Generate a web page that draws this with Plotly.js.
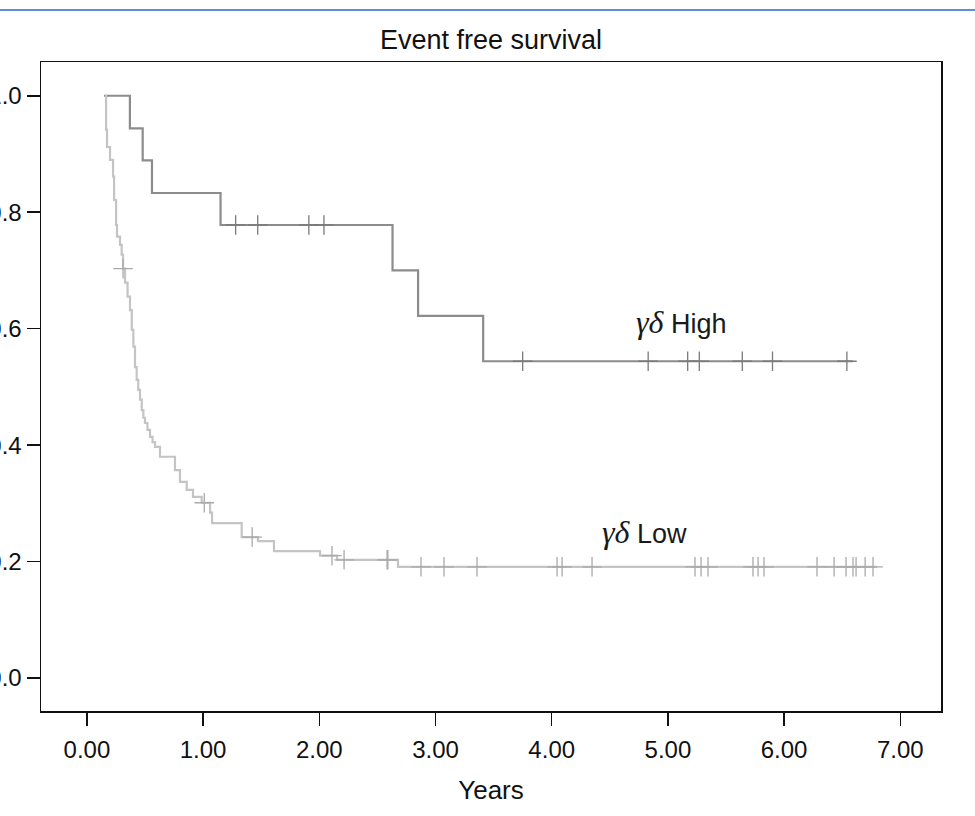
<!DOCTYPE html>
<html>
<head>
<meta charset="utf-8">
<script src="https://cdn.plot.ly/plotly-3.0.1.min.js"></script>
<style>
  html, body { margin: 0; padding: 0; background: #ffffff; }
  #chart { width: 975px; height: 816px; }
</style>
</head>
<body>
<div id="chart"></div>
<script>
// ---- data (Kaplan-Meier, event free survival) ----
const highTimes = [0.147, 0.37, 0.48, 0.56, 1.15, 2.63, 2.85, 3.41, 6.59];
const highSurv  = [1.000, 0.944, 0.889, 0.833, 0.778, 0.700, 0.622, 0.544, 0.544];
const highCensor = [1.28, 1.47, 1.91, 2.04, 3.75, 4.83, 5.17, 5.27, 5.64, 5.90, 6.54];

const lowTimes = [0.157, 0.165, 0.173, 0.199, 0.225, 0.234, 0.251, 0.259, 0.285, 0.299,
                  0.311, 0.328, 0.350, 0.371, 0.386, 0.400, 0.414, 0.428, 0.442, 0.457,
                  0.472, 0.486, 0.500, 0.521, 0.543, 0.565, 0.586, 0.629, 0.758, 0.801,
                  0.859, 0.913, 0.988, 1.060, 1.077, 1.332, 1.472, 1.610, 2.006, 2.153,
                  2.677, 6.80];
const lowSurv  = [1.000, 0.942, 0.912, 0.890, 0.861, 0.821, 0.778, 0.758, 0.744, 0.727,
                  0.703, 0.679, 0.655, 0.632, 0.598, 0.569, 0.534, 0.512, 0.495, 0.478,
                  0.460, 0.447, 0.438, 0.426, 0.414, 0.405, 0.397, 0.380, 0.357, 0.337,
                  0.323, 0.311, 0.301, 0.284, 0.266, 0.242, 0.235, 0.218, 0.210, 0.203,
                  0.191, 0.191];
const lowCensor = [0.311, 1.01, 1.422, 2.109, 2.213, 2.583, 2.590, 2.875, 3.073, 3.357,
                   4.046, 4.089, 4.347, 5.233, 5.285, 5.345, 5.732, 5.776, 5.827, 6.283,
                   6.430, 6.533, 6.593, 6.619, 6.697, 6.765];

const xTickVals = [0, 1, 2, 3, 4, 5, 6, 7];
const xTickText = ['0.00', '1.00', '2.00', '3.00', '4.00', '5.00', '6.00', '7.00'];
const yTickVals = [0, 0.2, 0.4, 0.6, 0.8, 1.0];
const yTickText = ['0.0', '0.2', '0.4', '0.6', '0.8', '1.0'];

const groupLabels = ['High', 'Low'];
const labelX = [5.12, 4.80];
const labelY = [0.612, 0.251];

// survival level at time t from a step function
function stepAt(times, surv, t) {
  let s = surv[0];
  for (let i = 0; i < times.length; i++) { if (times[i] <= t) s = surv[i]; }
  return s;
}

const sans = '"Liberation Sans", Arial, Helvetica, sans-serif';
const highColor = '#8c8c8c';
const lowColor = '#c4c4c4';

const traces = [
  { x: highTimes, y: highSurv, type: 'scatter', mode: 'lines',
    line: { shape: 'hv', color: highColor, width: 2.2 }, hoverinfo: 'skip' },
  { x: lowTimes, y: lowSurv, type: 'scatter', mode: 'lines',
    line: { shape: 'hv', color: lowColor, width: 2.2 }, hoverinfo: 'skip' },
  { x: highCensor, y: highCensor.map(t => stepAt(highTimes, highSurv, t)),
    type: 'scatter', mode: 'markers',
    marker: { symbol: 'cross-thin', size: 14, color: '#7a7a7a', line: { color: '#7a7a7a', width: 1.3 } },
    hoverinfo: 'skip' },
  { x: lowCensor, y: lowCensor.map(t => stepAt(lowTimes, lowSurv, t)),
    type: 'scatter', mode: 'markers',
    marker: { symbol: 'cross-thin', size: 14, color: '#aaaaaa', line: { color: '#aaaaaa', width: 1.3 } },
    hoverinfo: 'skip' }
];

const annotations = groupLabels.map((g, i) => ({
  x: labelX[i], y: labelY[i], xref: 'x', yref: 'y',
  text: '<span style="font-family:\'Liberation Serif\', \'Times New Roman\', serif;font-style:italic;font-size:32px">γδ</span> ' + g,
  showarrow: false, xanchor: 'center', yanchor: 'middle',
  font: { family: sans, size: 27, color: '#1a1a1a' }
}));

const layout = {
  width: 975, height: 816,
  margin: { l: 41, r: 34, t: 62, b: 105, pad: 0 },
  paper_bgcolor: '#ffffff', plot_bgcolor: '#ffffff',
  showlegend: false,
  title: { text: 'Event free survival', x: 0.5, xref: 'paper', xanchor: 'center',
           y: 1 - 40 / 816, yref: 'container', yanchor: 'middle',
           font: { family: sans, size: 27, color: '#111111' } },
  xaxis: {
    range: [-0.395, 7.35], tickvals: xTickVals, ticktext: xTickText,
    ticks: 'outside', ticklen: 13, tickwidth: 1.5, tickcolor: '#111111',
    ticklabelstandoff: 4,
    showline: true, linecolor: '#111111', linewidth: 1.5, mirror: true,
    showgrid: false, zeroline: false,
    tickfont: { family: sans, size: 24, color: '#111111' },
    title: { text: 'Years', font: { family: sans, size: 26, color: '#111111' }, standoff: 18 }
  },
  yaxis: {
    range: [-0.0567, 1.058], tickvals: yTickVals, ticktext: yTickText,
    ticks: 'outside', ticklen: 13, tickwidth: 1.5, tickcolor: '#111111',
    showline: true, linecolor: '#111111', linewidth: 1.5, mirror: true,
    showgrid: false, zeroline: false,
    tickfont: { family: sans, size: 24, color: '#111111' }
  },
  annotations: annotations,
  shapes: [
    { type: 'line', xref: 'paper', yref: 'paper',
      x0: -41 / 900, x1: 934 / 900, y0: 1 + 52 / 649, y1: 1 + 52 / 649,
      line: { color: '#5b8fd6', width: 2 } }
  ]
};

Plotly.newPlot('chart', traces, layout, { displayModeBar: false, staticPlot: true });
</script>
</body>
</html>
